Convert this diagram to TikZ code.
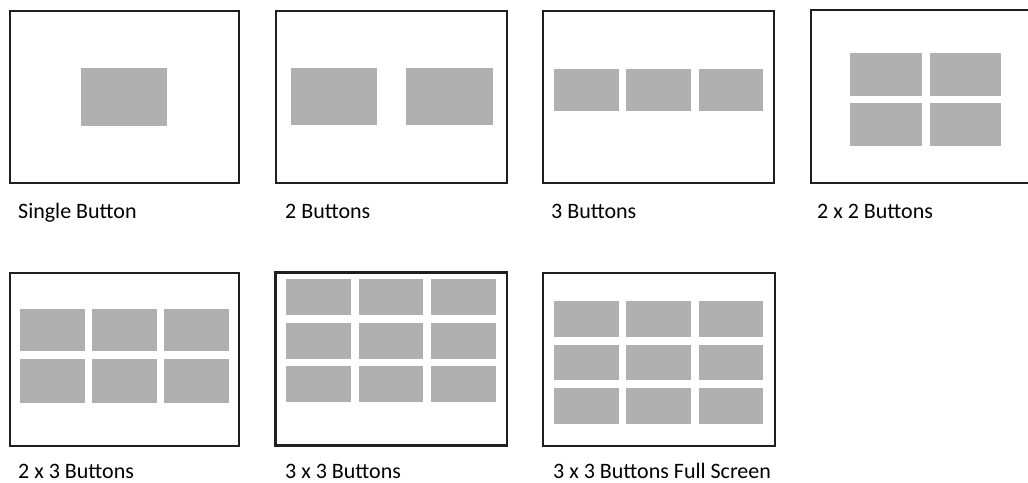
\documentclass[tikz,border=0pt]{standalone}
\usepackage{fontspec}
\setmainfont{Carlito}
\begin{document}
\begin{tikzpicture}[x=1pt,y=-1pt,
  frame/.style={draw=black!88,line width=2pt,fill=white},
  btn/.style={fill=black!31,draw=none},
  lbl/.style={anchor=base west,inner sep=0pt,font=\fontsize{22}{26}\selectfont,text=black}]
\useasboundingbox (0,0) rectangle (1028,482);
\clip (0,0) rectangle (1028,482);
% Panel 1
\draw[frame] (10,11) rectangle (239,183);
\fill[btn] (81,68) rectangle (167,126);
\node[lbl] (l1) at (18,218) {Single Button};
% Panel 2
\draw[frame] (276,11) rectangle (507,183);
\fill[btn] (291,68) rectangle (377,125);
\fill[btn] (406,68) rectangle (493,125);
\node[lbl] (l2) at (285,218) {2 Buttons};
% Panel 3
\draw[frame] (543,11) rectangle (774,183);
\foreach \a/\b in {554/619,626/691,699/763}
  \fill[btn] (\a,68.5) rectangle (\b,111);
\node[lbl] (l3) at (551,218) {3 Buttons};
% Panel 4
\draw[frame] (811,10) rectangle (1040,182.5);
\foreach \a/\b in {850/922,930/1001}
  \foreach \c/\d in {52.7/95.7,103/146.3}
    \fill[btn] (\a,\c) rectangle (\b,\d);
\node[lbl] (l4) at (817,218) {2 x 2 Buttons};
% Panel 5
\draw[frame] (9.5,272.5) rectangle (239,445.5);
\foreach \a/\b in {20.3/84.7,92.3/156.7,164.3/228.7}
  \foreach \c/\d in {308.7/351.3,359.3/402.7}
    \fill[btn] (\a,\c) rectangle (\b,\d);
\node[lbl] (l5) at (18,478) {2 x 3 Buttons};
% Panel 6
\draw[frame,line width=2.6pt] (275.5,272.5) rectangle (507,445.5);
\foreach \a/\b in {286.3/351,358.7/423.3,430.7/495.7}
  \foreach \c/\d in {279.3/314.7,322.7/358.7,366.3/402.3}
    \fill[btn] (\a,\c) rectangle (\b,\d);
\node[lbl] (l6) at (285,478) {3 x 3 Buttons};
% Panel 7
\draw[frame] (543,272.5) rectangle (775,445.5);
\foreach \a/\b in {554/618.7,626.3/691,698.7/763.3}
  \foreach \c/\d in {300.7/336.7,344.7/380.3,388/424}
    \fill[btn] (\a,\c) rectangle (\b,\d);
\node[lbl] (l7) at (553,478) {3 x 3 Buttons Full Screen};
\end{tikzpicture}
\end{document}
